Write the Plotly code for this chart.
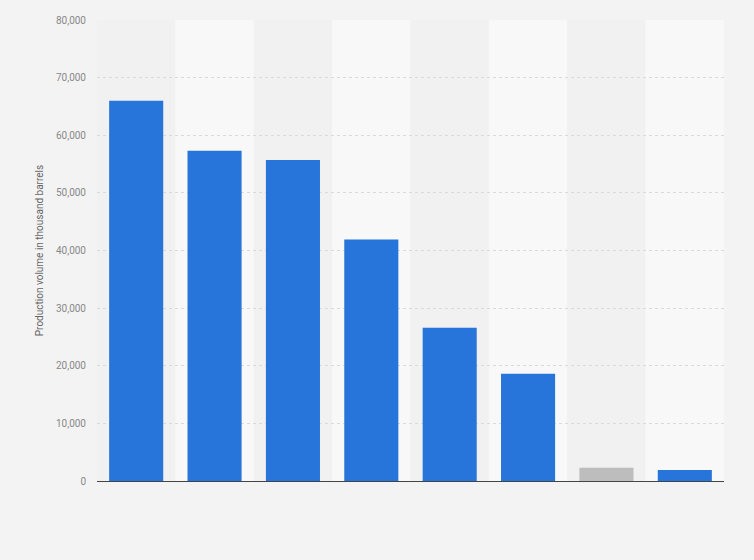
import plotly.graph_objects as go

# Data (x tick labels are not shown in the picture)
categories = ["1", "2", "3", "4", "5", "6", "7", "8"]
production = [66000, 57300, 55700, 41900, 26600, 18600, 2300, 1900]
bar_colors = ["#2775da", "#2775da", "#2775da", "#2775da",
              "#2775da", "#2775da", "#bdbdbd", "#2775da"]

fig = go.Figure()

fig.add_trace(go.Bar(
    x=categories,
    y=production,
    marker=dict(color=bar_colors, line=dict(width=0)),
    width=0.69,
    showlegend=False,
    hovertemplate="%{y:,}<extra></extra>",
))

# alternating column bands behind the bars
for i in range(len(categories)):
    fig.add_shape(type="rect", xref="x", yref="paper",
                  x0=i - 0.5, x1=i + 0.5, y0=0, y1=1,
                  fillcolor="#f1f1f1" if i % 2 == 0 else "#f8f8f8",
                  line=dict(width=0), layer="below")

fig.update_layout(
    width=754, height=560,
    margin=dict(l=97, r=30, t=20, b=79),
    paper_bgcolor="#f3f3f3",
    plot_bgcolor="#f3f3f3",
    font=dict(family="Roboto, Arial, sans-serif", size=10, color="#888"),
    bargap=0.31,
    xaxis=dict(
        showticklabels=False,
        showgrid=False,
        zeroline=False,
        showline=False,
        ticks="",
        range=[-0.5, len(categories) - 0.5],
    ),
    yaxis=dict(
        range=[0, 80000],
        dtick=10000,
        tickformat=",",
        showgrid=True,
        gridcolor="#dadada",
        griddash="dot",
        gridwidth=1,
        zeroline=True,
        zerolinecolor="#444",
        zerolinewidth=1.2,
        ticks="",
        ticklabelstandoff=10,
        title=dict(text="Production volume in thousand barrels",
                   font=dict(size=10, color="#666"), standoff=10),
    ),
)

# drop the default page margin so the figure sits at the window corner
fig.write_html("out.html",
               config={"displayModeBar": False},
               post_script="document.body.style.margin='0';"
                           "document.body.style.background='#f3f3f3';")
